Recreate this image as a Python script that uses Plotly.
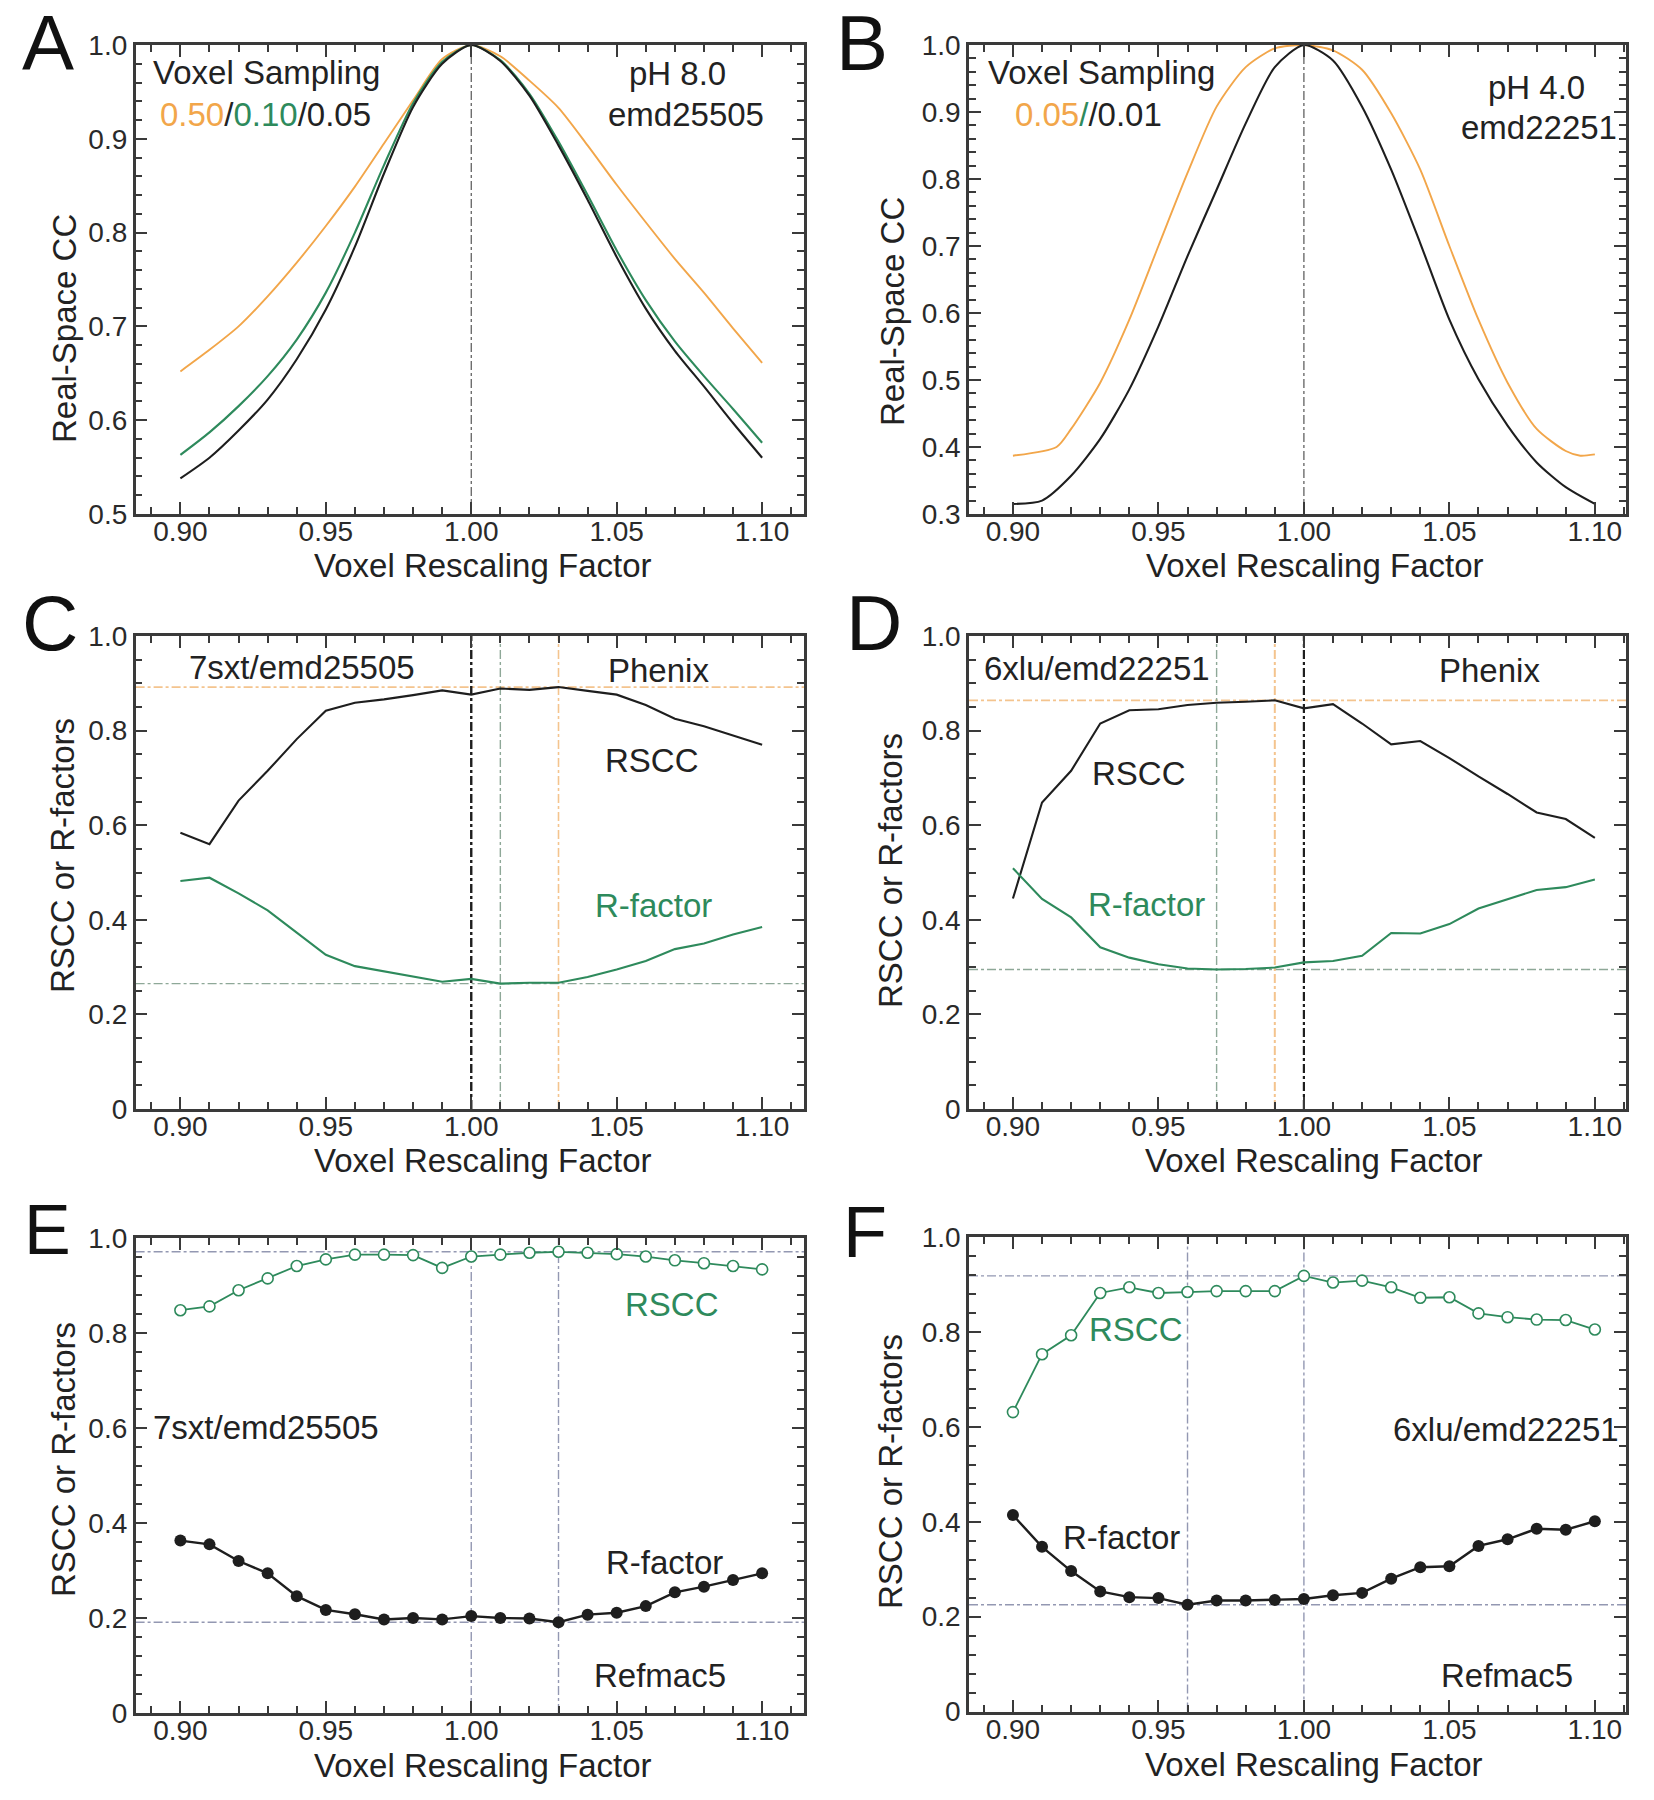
import plotly.graph_objects as go

FONT = "Liberation Sans, Arial, Helvetica, sans-serif"
ORANGE = "#F2A64A"
GREEN = "#2E8A5C"
BLACK = "#1e1e1e"
AXIS = "#3a3a3a"
REF_ORANGE = "#F4C48E"
REF_GREEN = "#8EA898"
REF_BLUE = "#9398B2"

W, H = 1654, 1800

# ---- data ----
voxel_factor = [0.90, 0.91, 0.92, 0.93, 0.94, 0.95, 0.96, 0.97, 0.98, 0.99, 1.00,
                1.01, 1.02, 1.03, 1.04, 1.05, 1.06, 1.07, 1.08, 1.09, 1.10]

# panel A, pH 8.0 emd25505, real-space CC for three voxel samplings
a_cc_050 = [0.652, 0.675, 0.700, 0.732, 0.768, 0.807, 0.849, 0.895, 0.941, 0.985, 1.000,
            0.988, 0.962, 0.933, 0.893, 0.851, 0.811, 0.772, 0.736, 0.698, 0.661]
a_cc_010 = [0.563, 0.587, 0.615, 0.647, 0.686, 0.736, 0.800, 0.872, 0.938, 0.982, 1.000,
            0.984, 0.948, 0.897, 0.840, 0.781, 0.728, 0.684, 0.647, 0.612, 0.576]
a_cc_005 = [0.538, 0.560, 0.589, 0.622, 0.665, 0.718, 0.785, 0.863, 0.934, 0.980, 1.000,
            0.983, 0.946, 0.893, 0.835, 0.774, 0.719, 0.674, 0.636, 0.597, 0.560]

# panel B, pH 4.0 emd22251
b_factor_005 = [0.900, 0.915, 0.92, 0.93, 0.94, 0.95, 0.96, 0.97, 0.98, 0.99, 1.00,
                1.01, 1.02, 1.03, 1.04, 1.05, 1.06, 1.07, 1.08, 1.09, 1.095, 1.10]
b_cc_005 = [0.387, 0.400, 0.427, 0.496, 0.590, 0.700, 0.809, 0.908, 0.967, 0.995, 1.000,
            0.992, 0.963, 0.898, 0.814, 0.700, 0.590, 0.496, 0.427, 0.394, 0.387, 0.389]
b_cc_001 = [0.315, 0.320, 0.357, 0.412, 0.486, 0.580, 0.685, 0.784, 0.883, 0.967, 1.000,
            0.977, 0.908, 0.814, 0.704, 0.590, 0.501, 0.432, 0.377, 0.340, 0.315]

# panel C, Phenix 7sxt/emd25505
c_rscc = [0.584, 0.560, 0.652, 0.715, 0.782, 0.842, 0.859, 0.866, 0.875, 0.885, 0.876,
          0.889, 0.886, 0.892, 0.884, 0.876, 0.854, 0.825, 0.809, 0.789, 0.770]
c_rfactor = [0.482, 0.489, 0.456, 0.420, 0.373, 0.326, 0.302, 0.291, 0.281, 0.269, 0.275,
             0.265, 0.267, 0.267, 0.279, 0.295, 0.313, 0.338, 0.350, 0.369, 0.385]

# panel D, Phenix 6xlu/emd22251
d_rscc = [0.445, 0.648, 0.715, 0.815, 0.843, 0.845, 0.854, 0.859, 0.861, 0.864, 0.847,
          0.856, 0.815, 0.771, 0.778, 0.742, 0.703, 0.666, 0.627, 0.613, 0.573]
d_rfactor = [0.509, 0.444, 0.405, 0.342, 0.320, 0.306, 0.297, 0.295, 0.296, 0.299, 0.310,
             0.313, 0.324, 0.372, 0.371, 0.391, 0.424, 0.444, 0.463, 0.469, 0.485]

# panel E, Refmac5 7sxt/emd25505
e_rscc = [0.848, 0.856, 0.890, 0.915, 0.941, 0.955, 0.965, 0.965, 0.964, 0.937, 0.961,
          0.965, 0.969, 0.971, 0.969, 0.966, 0.961, 0.953, 0.947, 0.941, 0.934]
e_rfactor = [0.363, 0.355, 0.320, 0.294, 0.246, 0.217, 0.208, 0.197, 0.200, 0.197, 0.204,
             0.200, 0.199, 0.191, 0.207, 0.211, 0.225, 0.254, 0.266, 0.280, 0.294]

# panel F, Refmac5 6xlu/emd22251
f_rscc = [0.631, 0.753, 0.793, 0.882, 0.894, 0.882, 0.884, 0.886, 0.886, 0.886, 0.918,
          0.904, 0.908, 0.894, 0.872, 0.873, 0.839, 0.831, 0.826, 0.825, 0.805]
f_rfactor = [0.414, 0.347, 0.296, 0.253, 0.241, 0.239, 0.225, 0.234, 0.234, 0.235, 0.237,
             0.245, 0.250, 0.280, 0.304, 0.306, 0.349, 0.363, 0.385, 0.383, 0.401]

# reference (best value) lines
c_best_factor = [1.01, 1.03]
c_best_value = [0.892, 0.265]
d_best_factor = [0.97, 0.99]
d_best_value = [0.864, 0.295]
e_best_factor = [1.00, 1.03]
e_best_value = [0.971, 0.191]
f_best_factor = [0.96, 1.00]
f_best_value = [0.918, 0.225]


def fx(p):
    return p / W


def fy(p):
    return 1 - p / H


fig = go.Figure()

# panel frames in pixels: (left, right), (top, bottom), x range, y range, y dtick, y minor
panels = {
    1: ((135.6, 804), (45, 514), [0.8846, 1.1144], [0.5, 1.0], 0.1, 0.02),
    2: ((969, 1626), (45, 514), [0.8849, 1.1107], [0.3, 1.0], 0.1, 0.02),
    3: ((135.6, 804), (636, 1109), [0.8846, 1.1144], [0, 1.0], 0.2, 0.05),
    4: ((969, 1626), (636, 1109), [0.8849, 1.1107], [0, 1.0], 0.2, 0.05),
    5: ((135.6, 804), (1238, 1713), [0.8846, 1.1144], [0, 1.0], 0.2, 0.04),
    6: ((969, 1626), (1237, 1711.5), [0.8849, 1.1107], [0, 1.0], 0.2, 0.04),
}

tick_font = dict(family=FONT, size=28, color="#2a2a2a")
common = dict(showline=True, linecolor=AXIS, linewidth=2.5, mirror="allticks",
              ticks="inside", ticklen=12, tickwidth=2, tickcolor=AXIS,
              showgrid=False, zeroline=False, tickfont=tick_font, automargin=False)

layout = {}
for i, (xd, yd, xr, yr, ydt, yminor) in panels.items():
    s = "" if i == 1 else str(i)
    layout["xaxis" + s] = dict(
        common, domain=[fx(xd[0]), fx(xd[1])], range=xr, anchor="y" + s,
        tickmode="linear", tick0=0.9, dtick=0.05, tickformat=".2f",
        ticklabelstandoff=-9,
        minor=dict(ticks="inside", ticklen=7, tickwidth=1.5, tickcolor=AXIS,
                   tick0=0.9, dtick=0.01, showgrid=False))
    ycfg = dict(
        common, domain=[fy(yd[1]), fy(yd[0])], range=yr, anchor="x" + s,
        tickmode="linear", tick0=0, dtick=ydt,
        minor=dict(ticks="inside", ticklen=7, tickwidth=1.5, tickcolor=AXIS,
                   tick0=0, dtick=yminor, showgrid=False))
    if i <= 2:
        ycfg["tickformat"] = ".1f"
    else:
        ycfg["labelalias"] = {"1": "1.0"}
    layout["yaxis" + s] = ycfg


def ax(i):
    return ("x", "y") if i == 1 else ("x" + str(i), "y" + str(i))


def line(i, x, y, color, width=2.2, shape="linear"):
    xa, ya = ax(i)
    fig.add_trace(go.Scatter(x=x, y=y, mode="lines", xaxis=xa, yaxis=ya,
                             line=dict(color=color, width=width, shape=shape, smoothing=0.7),
                             showlegend=False, hoverinfo="skip"))


def marked(i, x, y, color, filled):
    xa, ya = ax(i)
    if filled:
        marker = dict(symbol="circle", size=12, color=color)
    else:
        marker = dict(symbol="circle", size=11, color="white",
                      line=dict(color=color, width=1.6))
    fig.add_trace(go.Scatter(x=x, y=y, mode="lines+markers", xaxis=xa, yaxis=ya,
                             line=dict(color=color, width=2.4 if filled else 1.8),
                             marker=marker, showlegend=False, hoverinfo="skip"))


def vref(i, x, color, width=1.4):
    xa, ya = ax(i)
    fig.add_shape(type="line", xref=xa, yref=ya + " domain", x0=x, x1=x, y0=0, y1=1,
                  line=dict(color=color, width=width, dash="dashdot"), layer="below")


def href(i, y, color, width=1.4):
    xa, ya = ax(i)
    fig.add_shape(type="line", xref=xa + " domain", yref=ya, x0=0, x1=1, y0=y, y1=y,
                  line=dict(color=color, width=width, dash="dashdot"), layer="below")


# A
vref(1, 1.00, "#555555", 1.2)
line(1, voxel_factor, a_cc_050, ORANGE, 1.9, "spline")
line(1, voxel_factor, a_cc_010, GREEN, 2.1, "spline")
line(1, voxel_factor, a_cc_005, BLACK, 2.1, "spline")

# B
vref(2, 1.00, "#555555", 1.2)
line(2, b_factor_005, b_cc_005, ORANGE, 1.9, "spline")
line(2, voxel_factor, b_cc_001, BLACK, 2.1, "spline")

# C
href(3, c_best_value[0], REF_ORANGE, 1.6)
href(3, c_best_value[1], REF_GREEN)
vref(3, 1.00, BLACK, 2.4)
vref(3, c_best_factor[0], REF_GREEN)
vref(3, c_best_factor[1], REF_ORANGE, 1.6)
line(3, voxel_factor, c_rscc, BLACK, 2.1)
line(3, voxel_factor, c_rfactor, GREEN, 2.1)

# D
href(4, d_best_value[0], REF_ORANGE, 1.8)
href(4, d_best_value[1], REF_GREEN)
vref(4, d_best_factor[0], REF_GREEN)
vref(4, d_best_factor[1], REF_ORANGE, 2.0)
vref(4, 1.00, BLACK, 2.2)
line(4, voxel_factor, d_rscc, BLACK, 2.1)
line(4, voxel_factor, d_rfactor, GREEN, 2.1)

# E
for v in e_best_value:
    href(5, v, REF_BLUE)
for v in e_best_factor:
    vref(5, v, REF_BLUE)
marked(5, voxel_factor, e_rscc, GREEN, False)
marked(5, voxel_factor, e_rfactor, BLACK, True)

# F
for v in f_best_value:
    href(6, v, REF_BLUE)
for v in f_best_factor:
    vref(6, v, REF_BLUE)
marked(6, voxel_factor, f_rscc, GREEN, False)
marked(6, voxel_factor, f_rfactor, BLACK, True)

annotations = []


def text(t, x, y, size=33, color="#222222", angle=0):
    annotations.append(dict(text=t, x=fx(x), y=fy(y), xref="paper", yref="paper",
                            xanchor="center", yanchor="middle", showarrow=False,
                            textangle=angle, font=dict(family=FONT, size=size, color=color)))


# panel letters
for letter, x, y, size in [("A", 48, 43, 78), ("B", 862, 43, 78), ("C", 50, 623, 78),
                           ("D", 874, 623, 78), ("E", 47, 1230, 70), ("F", 865, 1232, 72)]:
    text(letter, x, y, size, "#111111")

# axis titles
for x, y in [(483, 565), (1315, 565), (483, 1160), (1314, 1160), (483, 1765), (1314, 1764)]:
    text("Voxel Rescaling Factor", x, y)
text("Real-Space CC", 64, 329, angle=-90)
text("Real-Space CC", 892, 312, angle=-90)
for x, y in [(63, 856), (890, 870), (63, 1460), (890, 1471)]:
    text("RSCC or R-factors", x, y, angle=-90)

# A labels
text("Voxel Sampling", 266, 72)
text("<span style='color:%s'>0.50</span>/<span style='color:%s'>0.10</span>/0.05"
     % (ORANGE, GREEN), 265, 114)
text("pH 8.0", 677, 74)
text("emd25505", 686, 115)
# B labels
text("Voxel Sampling", 1101, 72)
text("<span style='color:%s'>0.05</span><span style='color:%s'>/</span>/0.01"
     % (ORANGE, GREEN), 1088, 115)
text("pH 4.0", 1536, 88)
text("emd22251", 1539, 127)
# C labels
text("7sxt/emd25505", 302, 667)
text("Phenix", 658, 670)
text("RSCC", 652, 761)
text("R-factor", 653, 905, color=GREEN)
# D labels
text("6xlu/emd22251", 1097, 668)
text("Phenix", 1489, 670)
text("RSCC", 1139, 773)
text("R-factor", 1146, 904, color=GREEN)
# E labels
text("RSCC", 672, 1304, color=GREEN)
text("7sxt/emd25505", 266, 1427)
text("R-factor", 664, 1562)
text("Refmac5", 660, 1675)
# F labels
text("RSCC", 1136, 1329, color=GREEN)
text("6xlu/emd22251", 1506, 1429)
text("R-factor", 1121, 1537)
text("Refmac5", 1507, 1675)

fig.update_layout(
    width=W, height=H, margin=dict(l=0, r=0, t=0, b=0, autoexpand=False),
    paper_bgcolor="white", plot_bgcolor="white",
    font=dict(family=FONT), annotations=annotations, showlegend=False,
    **layout)

fig.write_html("out.html", config={"displayModeBar": False},
               post_script="document.body.style.margin='0px';")
